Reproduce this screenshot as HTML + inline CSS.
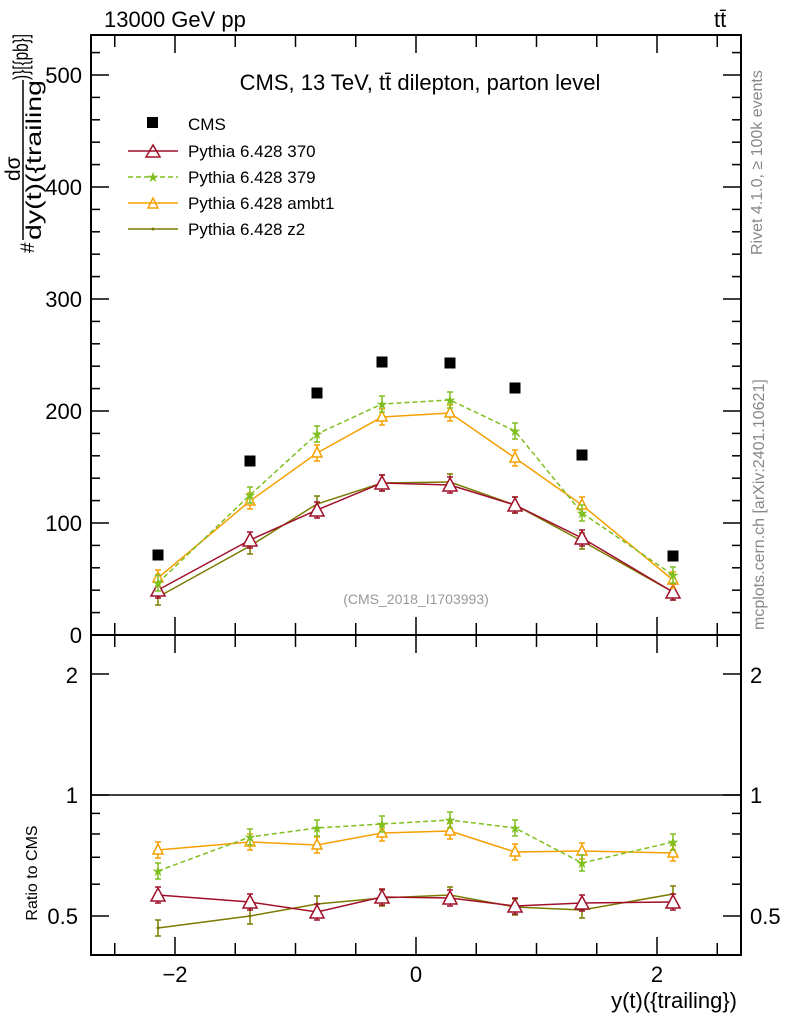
<!DOCTYPE html><html><head><style>body{margin:0;background:#fff}svg{display:block;font-family:"Liberation Sans",sans-serif}</style></head><body>
<svg id="s" width="786" height="1024" xmlns="http://www.w3.org/2000/svg">
<rect x="0" y="0" width="786" height="1024" fill="#fff"/>
<text x="104" y="27" font-size="22">13000 GeV pp</text>
<text x="714" y="27" font-size="22">tt̄</text>
<rect x="91" y="35" width="650" height="600" fill="none" stroke="#000" stroke-width="2"/>
<rect x="91" y="635" width="650" height="320" fill="none" stroke="#000" stroke-width="2"/>
<g id="ticks" stroke="#000" stroke-width="1.5"></g>
<g font-size="22" text-anchor="end">
<text x="82" y="643">0</text><text x="82" y="531">100</text><text x="82" y="419">200</text><text x="82" y="307">300</text><text x="82" y="195">400</text><text x="82" y="83">500</text>
<text x="78" y="683">2</text><text x="78" y="803">1</text><text x="78" y="924">0.5</text>
</g>
<g font-size="22" text-anchor="start"><text x="750" y="683">2</text><text x="750" y="803">1</text><text x="750" y="924">0.5</text></g>
<g font-size="22" text-anchor="middle"><text x="175" y="982">−2</text><text x="416" y="982">0</text><text x="657" y="982">2</text></g>
<text x="737" y="1008" font-size="22" text-anchor="end">y(t)({trailing})</text>
<text x="420" y="90" font-size="22" text-anchor="middle">CMS, 13 TeV, tt̄ dilepton, parton level</text>
<text x="416" y="604" font-size="14" fill="#999" text-anchor="middle">(CMS_2018_I1703993)</text>
<text transform="translate(37,873) rotate(-90)" font-size="16" text-anchor="middle">Ratio to CMS</text>
<g transform="rotate(-90)">
<text x="-253" y="34" font-size="19">#</text>
<line x1="-240" y1="23" x2="-80" y2="23" stroke="#000" stroke-width="1.5"/>
<text x="-181" y="20" font-size="21">dσ</text>
<text x="-240" y="41" font-size="21" textLength="160" lengthAdjust="spacingAndGlyphs">dy(t)({trailing</text>
<text x="-80" y="28" font-size="21" textLength="46" lengthAdjust="spacingAndGlyphs">)}[{pb}]</text>
</g>
<text transform="translate(762,255) rotate(-90)" font-size="16" fill="#888">Rivet 4.1.0, ≥ 100k events</text>
<text transform="translate(764,630) rotate(-90)" font-size="16" fill="#888">mcplots.cern.ch [arXiv:2401.10621]</text>
<line x1="91" y1="795" x2="741" y2="795" stroke="#000" stroke-width="1.5"/>
<g id="data"></g>
<g font-size="17">
<rect x="147" y="117" width="11" height="11" fill="#000"/><text x="188" y="130">CMS</text>
<line x1="128" y1="151" x2="178" y2="151" stroke="#a0102a" stroke-width="1.5"/><path d="M146 157L153 145L160 157Z" fill="none" stroke="#a0102a" stroke-width="1.5"/><text x="188" y="157">Pythia 6.428 370</text>
<line x1="128" y1="177" x2="178" y2="177" stroke="#7fbf1f" stroke-width="1.5" stroke-dasharray="5,3"/><text x="153" y="182" fill="#7fbf1f" font-size="14" text-anchor="middle">★</text><text x="188" y="183">Pythia 6.428 379</text>
<line x1="128" y1="203" x2="178" y2="203" stroke="#f5a000" stroke-width="1.5"/><path d="M148 208L153 198L158 208Z" fill="none" stroke="#f5a000" stroke-width="1.5"/><text x="188" y="209">Pythia 6.428 ambt1</text>
<line x1="128" y1="229" x2="178" y2="229" stroke="#7a7a00" stroke-width="1.5"/><circle cx="153" cy="229" r="1.5" fill="#7a7a00"/><text x="188" y="235">Pythia 6.428 z2</text>
</g>
</svg>
<script>
var NS="http://www.w3.org/2000/svg",s=document.getElementById('s'),T=document.getElementById('ticks'),D=document.getElementById('data');
function el(p,t,a){var e=document.createElementNS(NS,t);for(var k in a)e.setAttribute(k,a[k]);p.appendChild(e);return e;}
function ln(p,x1,y1,x2,y2,c,w,d){var a={x1:x1,y1:y1,x2:x2,y2:y2,stroke:c||'#000','stroke-width':w||1.5};if(d)a['stroke-dasharray']=d;return el(p,'line',a);}
function X(v){return 416+v*120.5;}
for(var v=-2.5;v<=2.51;v+=0.5){var x=X(v),maj=Math.abs(v%2)<0.01;var L=maj?18:12;
ln(T,x,635,x,635-L);ln(T,x,35,x,35+L);ln(T,x,955,x,955-L);ln(T,x,635,x,635+L);}
for(var v=0;v<=535;v+=20){var y=635-v*1.12,L=(v%100==0)?18:9;ln(T,91,y,91+L,y);ln(T,741,y,741-L,y);}
var rv=[0.4,0.5,0.6,0.7,0.8,0.9,1,2];for(var i=0;i<rv.length;i++){var y=795-Math.log10(rv[i])*402,L=(rv[i]==0.5||rv[i]==1||rv[i]==2)?18:9;ln(T,91,y,91+L,y);ln(T,741,y,741-L,y);}
var xs=[158,250,317,382,450,515,582,673];
var cms=[555,461,393,362,363,388,455,556];
cms.forEach(function(y,i){el(D,'rect',{x:xs[i]-5.5,y:y-5.5,width:11,height:11,fill:'#000'});});
var S=[
{c:'#7a7a00',m:'dot',d:null,a:[597,546,504,483,482,505,541,592],r:[928,916,904,898,895,907,910,894]},
{c:'#a0102a',m:'tri',d:null,a:[590,540,510,483,485,505,538,592],r:[895,902,912,897,898,906,903,902]},
{c:'#f5a000',m:'tris',d:null,a:[578,501,453,417,413,458,505,580],r:[850,842,845,833,831,852,851,853]},
{c:'#7fbf1f',m:'star',d:'5,3',a:[583,495,434,404,400,431,513,575],r:[871,837,828,824,820,828,863,842]}];
S.forEach(function(o){[o.a,o.r].forEach(function(arr){
var pts=arr.map(function(y,i){return xs[i]+','+y;}).join(' ');
var a={points:pts,fill:'none',stroke:o.c,'stroke-width':1.5};if(o.d)a['stroke-dasharray']=o.d;el(D,'polyline',a);
arr.forEach(function(y,i){var x=xs[i];ln(D,x,y-8,x,y+8,o.c,1.5);ln(D,x-3,y-8,x+3,y-8,o.c,1.5);ln(D,x-3,y+8,x+3,y+8,o.c,1.5);
if(o.m=='tri')el(D,'path',{d:'M'+(x-7)+' '+(y+6)+'L'+x+' '+(y-7)+'L'+(x+7)+' '+(y+6)+'Z',fill:'#fff',stroke:o.c,'stroke-width':1.5});
else if(o.m=='tris')el(D,'path',{d:'M'+(x-5)+' '+(y+4)+'L'+x+' '+(y-6)+'L'+(x+5)+' '+(y+4)+'Z',fill:'#fff',stroke:o.c,'stroke-width':1.5});
else if(o.m=='star'){var t=el(D,'text',{x:x,y:y+5,fill:o.c,'font-size':14,'text-anchor':'middle'});t.textContent='★';}
else el(D,'circle',{cx:x,cy:y,r:1.5,fill:o.c});});});});
</script>
</body></html>
